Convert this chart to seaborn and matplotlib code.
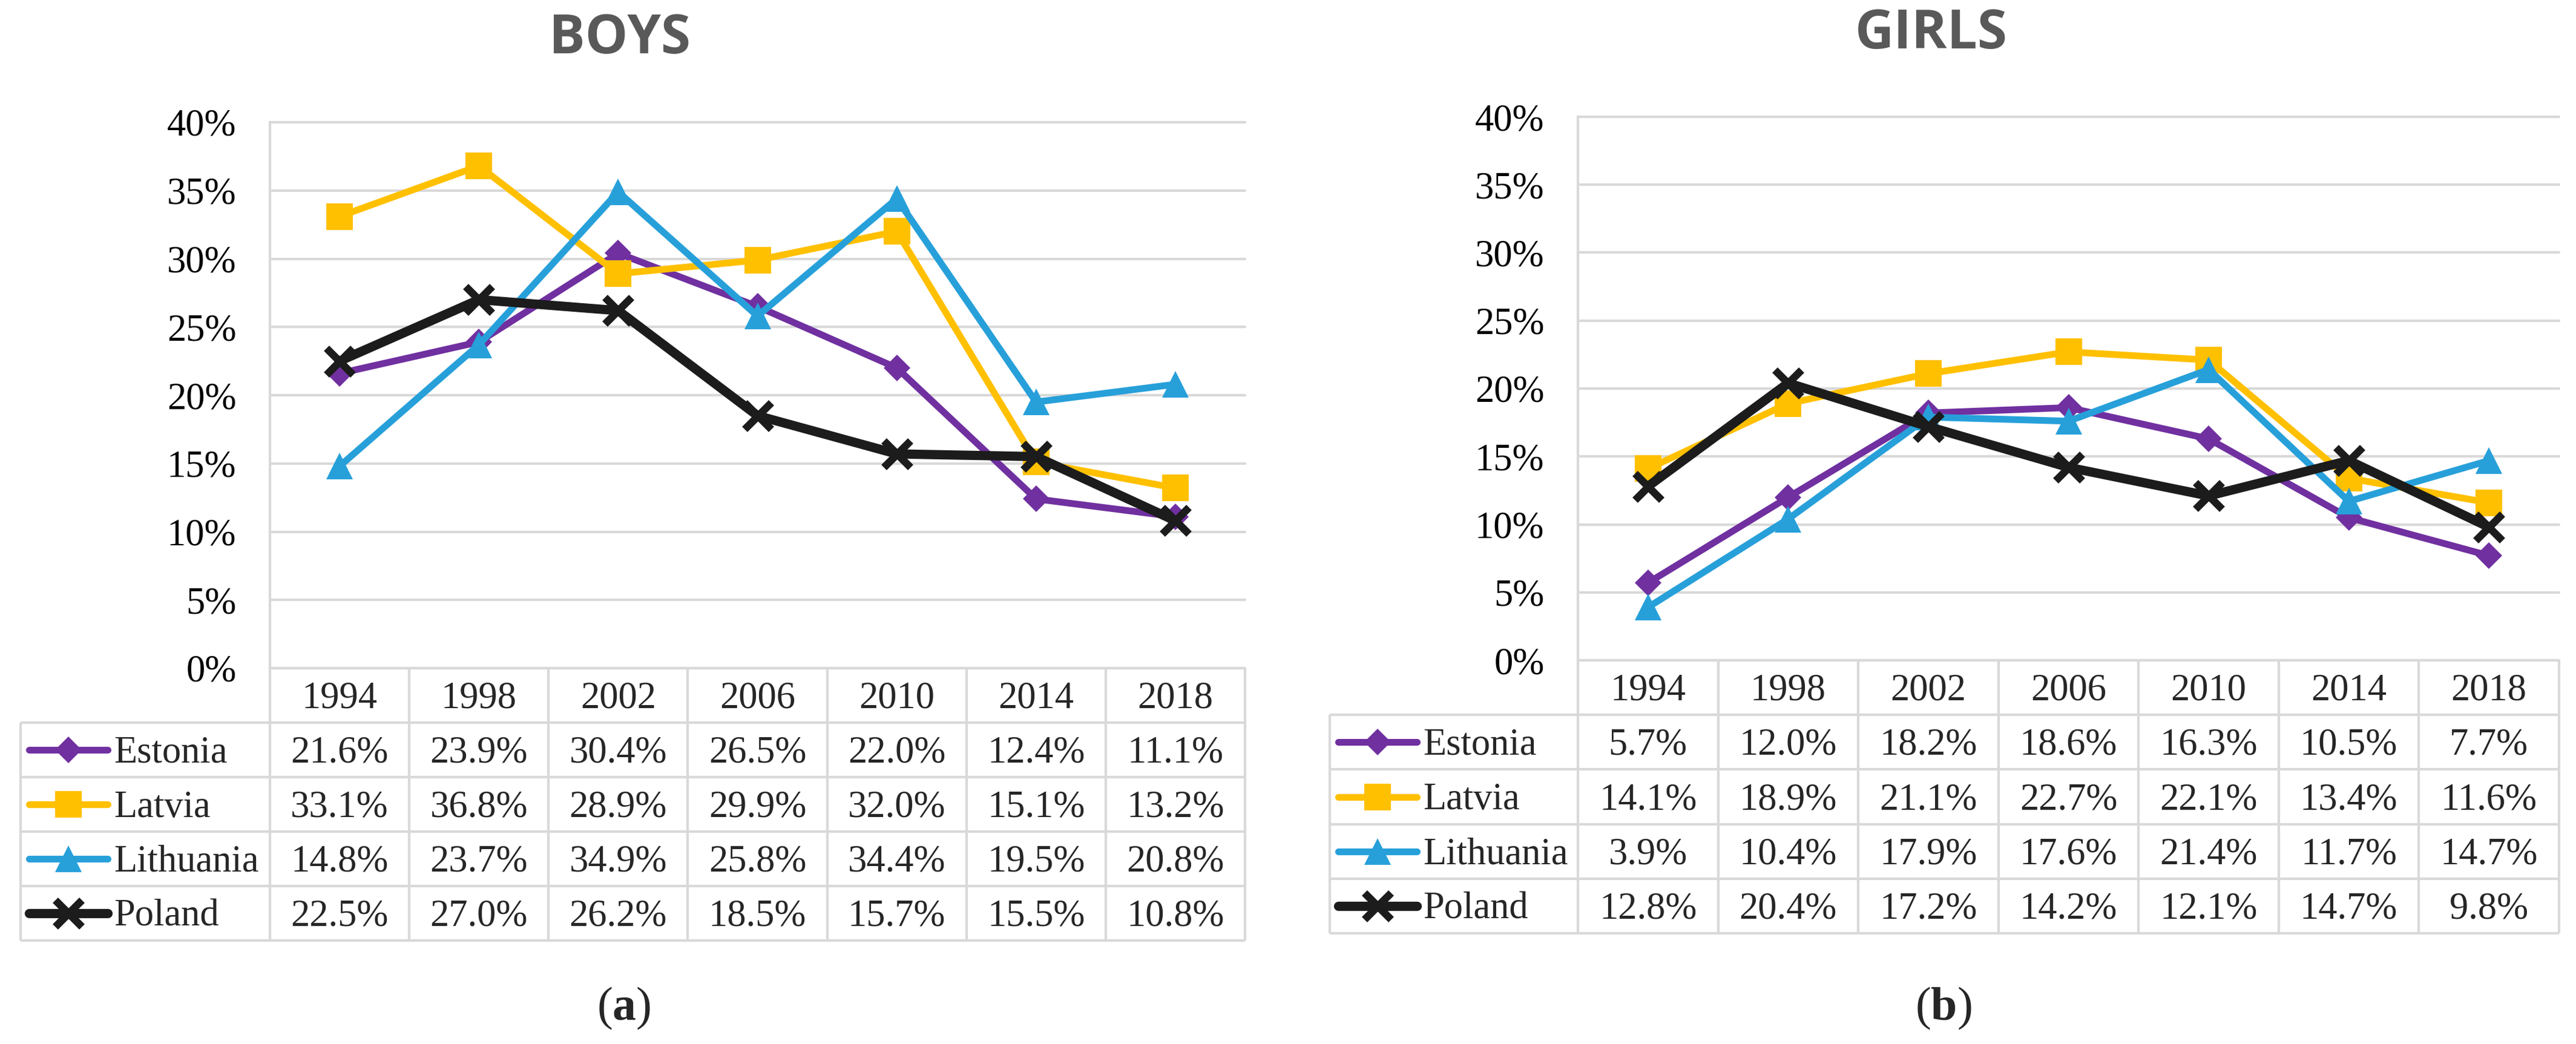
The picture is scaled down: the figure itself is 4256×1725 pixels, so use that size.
import matplotlib.pyplot as plt
import matplotlib.ticker as mticker
import matplotlib.transforms as mtransforms
from matplotlib.lines import Line2D
import pandas as pd
import seaborn as sns

# 数据
years = ["1994", "1998", "2002", "2006", "2010", "2014", "2018"]
countries = ["Estonia", "Latvia", "Lithuania", "Poland"]

boys_estonia = [21.6, 23.9, 30.4, 26.5, 22.0, 12.4, 11.1]
boys_latvia = [33.1, 36.8, 28.9, 29.9, 32.0, 15.1, 13.2]
boys_lithuania = [14.8, 23.7, 34.9, 25.8, 34.4, 19.5, 20.8]
boys_poland = [22.5, 27.0, 26.2, 18.5, 15.7, 15.5, 10.8]

girls_estonia = [5.7, 12.0, 18.2, 18.6, 16.3, 10.5, 7.7]
girls_latvia = [14.1, 18.9, 21.1, 22.7, 22.1, 13.4, 11.6]
girls_lithuania = [3.9, 10.4, 17.9, 17.6, 21.4, 11.7, 14.7]
girls_poland = [12.8, 20.4, 17.2, 14.2, 12.1, 14.7, 9.8]

y_ticks = [0, 5, 10, 15, 20, 25, 30, 35, 40]

# 样式
colors = {"Estonia": "#7030A0", "Latvia": "#FFC000", "Lithuania": "#27A0DA", "Poland": "#1C1C1C"}
markers = {"Estonia": "D", "Latvia": "s", "Lithuania": "^", "Poland": "x"}
msizes = {"Estonia": 11, "Latvia": 15.5, "Lithuania": 15.5, "Poland": 15.5}
lwidths = {"Estonia": 4, "Latvia": 4, "Lithuania": 4, "Poland": 5.5}
grid_c = "#D9D9D9"
FS = 22.5

W, H = 4256, 1725
DPI = 200

sns.set_theme(style="white")
plt.rcParams["font.family"] = ["Liberation Serif", "DejaVu Serif"]
plt.rcParams["mathtext.fontset"] = "custom"
plt.rcParams["mathtext.rm"] = "Liberation Serif"
plt.rcParams["mathtext.bf"] = "Liberation Serif:bold"
plt.rcParams["mathtext.it"] = "Liberation Serif:italic"


def to_long(series):
    rows = []
    for c, vals in zip(countries, series):
        for j, v in enumerate(vals):
            rows.append({"country": c, "pos": j, "year": years[j], "value": v})
    return pd.DataFrame(rows)


boys_df = to_long([boys_estonia, boys_latvia, boys_lithuania, boys_poland])
girls_df = to_long([girls_estonia, girls_latvia, girls_lithuania, girls_poland])


def px_axes(fig, x0, y0, x1, y1):
    return fig.add_axes([x0 / W, 1 - y1 / H, (x1 - x0) / W, (y1 - y0) / H])


def marker_kw(c):
    kw = dict(marker=markers[c], markersize=msizes[c], color=colors[c],
              markerfacecolor=colors[c], markeredgecolor=colors[c])
    kw["markeredgewidth"] = 4.5 if c == "Poland" else 0
    return kw


def draw_panel(fig, df, title, caption, box):
    # 折线图部分
    ax = px_axes(fig, box["plot_x0"], box["plot_y0"], box["plot_x1"], box["plot_y1"])
    for c in countries:
        sub = df[df["country"] == c]
        sns.lineplot(data=sub, x="pos", y="value", ax=ax, errorbar=None, legend=False,
                     linewidth=lwidths[c], solid_capstyle="round", solid_joinstyle="round",
                     **marker_kw(c))
    ax.set_xlim(-0.5, len(years) - 0.5)
    ax.set_ylim(0, 40)
    ax.set_yticks(y_ticks)
    ax.yaxis.set_major_formatter(mticker.PercentFormatter(100, decimals=0))
    ax.set_xticks([])
    ax.set_xlabel("")
    ax.set_ylabel("")
    ax.yaxis.grid(True, color=grid_c, linewidth=1.5)
    ax.set_axisbelow(True)
    for gl in ax.get_ygridlines():
        gl.set_clip_on(False)
    for s in ["top", "right", "bottom"]:
        ax.spines[s].set_visible(False)
    ax.spines["left"].set_color(grid_c)
    ax.spines["left"].set_linewidth(1.5)
    ax.tick_params(axis="y", length=0, pad=20, labelsize=FS, labelcolor="black")

    # 数据表部分
    tab = px_axes(fig, box["label_x0"], box["plot_y1"], box["plot_x1"], box["table_y1"])
    col_px = (box["plot_x1"] - box["plot_x0"]) / len(years)
    lab_u = (box["plot_x0"] - box["label_x0"]) / col_px
    left = -0.5 - lab_u
    right = len(years) - 0.5
    nrow = len(countries)
    tab.set_xlim(left, right)
    tab.set_ylim(nrow + 0.5, -0.5)
    tab.axis("off")
    line_kw = dict(color=grid_c, linewidth=1.5, clip_on=False)
    tab.hlines(-0.5, -0.5, right, **line_kw)
    tab.hlines([r + 0.5 for r in range(nrow + 1)], left, right, **line_kw)
    tab.vlines([-0.5 + k for k in range(len(years) + 1)], -0.5, nrow + 0.5, **line_kw)
    tab.vlines(left, 0.5, nrow + 0.5, **line_kw)

    # 文字略微下移，使数字在单元格中居中
    txt_tr = tab.transData + mtransforms.ScaledTranslation(0, -2 / 72, fig.dpi_scale_trans)
    for j, y in enumerate(years):
        tab.text(j, 0, y, ha="center", va="center", fontsize=FS, transform=txt_tr)
    for i, (c, vals) in enumerate(zip(countries, box["series"])):
        r = i + 1
        for j, v in enumerate(vals):
            tab.text(j, r, f"{v:.1f}%", ha="center", va="center", fontsize=FS, transform=txt_tr)
        # 图例符号
        x0 = left + 14 / col_px
        x1 = left + 144 / col_px
        tab.add_line(Line2D([x0, (x0 + x1) / 2, x1], [r, r, r], markevery=[1],
                            linewidth=lwidths[c], solid_capstyle="round", **marker_kw(c)))
        tab.text(left + 154 / col_px, r, c, ha="left", va="center", fontsize=FS, transform=txt_tr)

    fig.text(box["title_x"] / W, 1 - box["title_y"] / H, title, ha="center", va="center",
             fontfamily="Open Sans", fontweight="bold", fontsize=32, color="#595959")
    fig.text(box["cap_x"] / W, 1 - box["cap_y"] / H, caption, ha="center", va="center",
             fontsize=28)


fig = plt.figure(figsize=(W / DPI, H / DPI), dpi=DPI)

boys_box = dict(plot_x0=446, plot_x1=2057, plot_y0=202, plot_y1=1104, table_y1=1554,
                label_x0=34, title_x=1024, title_y=65, cap_x=1031, cap_y=1666,
                series=[boys_estonia, boys_latvia, boys_lithuania, boys_poland])
girls_box = dict(plot_x0=2607, plot_x1=4228, plot_y0=193, plot_y1=1091, table_y1=1542,
                 label_x0=2197, title_x=3191, title_y=57, cap_x=3211, cap_y=1666,
                 series=[girls_estonia, girls_latvia, girls_lithuania, girls_poland])

draw_panel(fig, boys_df, "BOYS", r"($\mathbf{a}$)", boys_box)
draw_panel(fig, girls_df, "GIRLS", r"($\mathbf{b}$)", girls_box)

fig.savefig("out.png", dpi=DPI)
